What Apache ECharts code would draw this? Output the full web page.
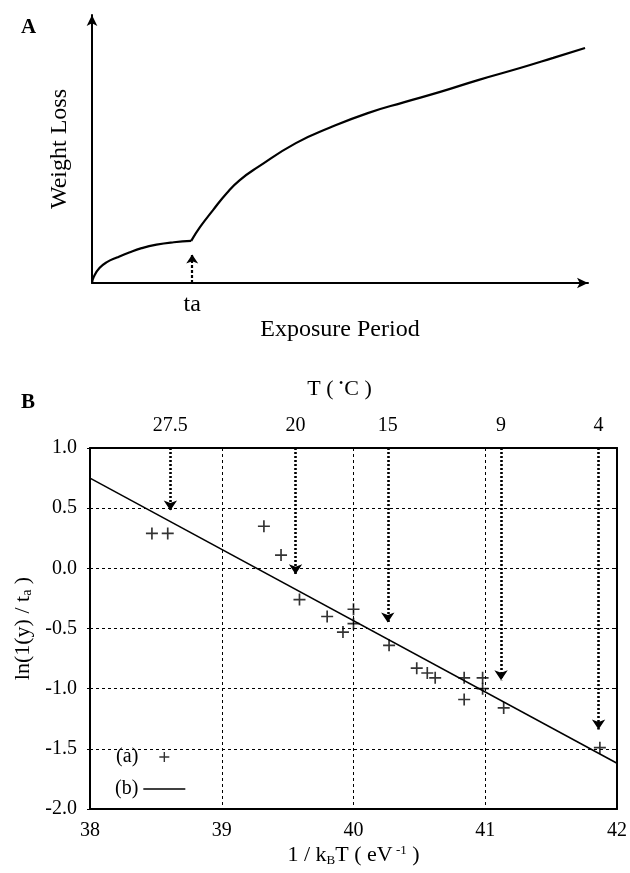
<!DOCTYPE html>
<html>
<head>
<meta charset="utf-8">
<script src="https://cdn.jsdelivr.net/npm/echarts@6/dist/echarts.min.js"></script>
<style>html,body{margin:0;padding:0;background:#fff;}#c{width:630px;height:873px;}</style>
</head>
<body>
<div id="c"></div>
<script>
// ---------- Panel A (schematic) ----------
const phase1X = [0, 0.4, 1.5, 3.0, 5.0, 7.5, 10.0, 13.0, 16.5, 20.0];
const phase1Y = [0, 2.5, 5.6, 7.8, 9.5, 11.4, 13.0, 14.3, 15.2, 15.7];
const phase2X = [20.0, 21.8, 24.4, 27.2, 29.8, 33.5, 41.1, 48.0, 55.6, 63.0, 70.2, 78.0, 86.3, 93.0, 99.4];
const phase2Y = [15.7, 20.9, 27.2, 33.6, 38.4, 43.3, 52.2, 58.0, 63.4, 67.5, 71.3, 75.8, 80.2, 84.0, 87.7];
const taX = 20.2;
const taArrowTip = 10.6;

// ---------- Panel B ----------
const kbtX = [38.47, 38.59, 39.32, 39.45, 39.59, 39.80, 39.92, 40.00, 40.00, 40.27, 40.48, 40.56, 40.62, 40.84, 40.84, 40.98, 40.98, 41.14, 41.87];
const lnY  = [0.29, 0.29, 0.35, 0.11, -0.26, -0.40, -0.53, -0.34, -0.46, -0.64, -0.83, -0.87, -0.91, -0.91, -1.09, -0.91, -1.00, -1.16, -1.49];
const fitX = [38, 42];
const fitY = [0.75, -1.62];
const tempLabels = ['27.5', '20', '15', '9', '4'];
const tempX = [38.61, 39.56, 40.26, 41.12, 41.86];
const arrowTipY = [0.48, -0.05, -0.45, -0.93, -1.34];

const FONT = "'Liberation Serif', 'Times New Roman', serif";
const plusIcon = 'path://M0,4.3H10V5.7H0ZM4.3,0H5.7V10H4.3Z';
const lineIcon = 'path://M0,0H40V1.4H0Z';

const chart = echarts.init(document.getElementById('c'), null, {renderer: 'canvas'});

const option = {
  backgroundColor: '#fff',
  animation: false,
  textStyle: {fontFamily: FONT, color: '#000'},
  title: [
    {text: 'A', left: 21, top: 17, padding: 0, textStyle: {fontFamily: FONT, fontWeight: 'bold', fontSize: 21, color: '#000'}},
    {text: 'B', left: 21, top: 392, padding: 0, textStyle: {fontFamily: FONT, fontWeight: 'bold', fontSize: 21, color: '#000'}}
  ],
  legend: {
    orient: 'vertical',
    left: 110,
    top: 742,
    align: 'right',
    itemWidth: 42,
    itemHeight: 10,
    itemGap: 12,
    textStyle: {fontFamily: FONT, fontSize: 20, color: '#000'},
    data: [
      {name: '(a)', icon: plusIcon},
      {name: '(b)', icon: lineIcon}
    ],
    selectedMode: false
  },
  grid: [
    {left: 92, top: 15, width: 496, height: 268, containLabel: false},
    {left: 90, top: 448, width: 532, height: 361, containLabel: false}
  ],
  xAxis: [
    { // panel A x
      type: 'value', gridIndex: 0, min: 0, max: 100,
      axisLine: {show: true, onZero: false, symbol: ['none', 'arrow'], symbolSize: [8, 11], lineStyle: {color: '#000', width: 2}},
      axisTick: {show: false},
      splitLine: {show: false},
      axisLabel: {show: true, customValues: [taX], formatter: function(){ return 'ta'; }, margin: 10, fontFamily: FONT, fontSize: 24, color: '#000'},
      name: 'Exposure Period', nameLocation: 'middle', nameGap: 22,
      nameTextStyle: {fontFamily: FONT, fontSize: 24, color: '#000'}
    },
    { // panel B bottom
      type: 'value', gridIndex: 1, min: 38, max: 42, interval: 1,
      axisLine: {show: true, onZero: false, lineStyle: {color: '#000', width: 2}},
      axisTick: {show: false},
      splitLine: {show: true, lineStyle: {color: '#000', type: [3, 3], width: 1}},
      axisLabel: {margin: 12, fontFamily: FONT, fontSize: 20, color: '#000', formatter: function(v){ return String(v); }},
      name: '{t|1 / k}{sub|B}{t|T ( eV}{sup| -1}{t| )}', nameLocation: 'middle', nameGap: 35,
      nameTextStyle: {
        fontFamily: FONT, fontSize: 22, color: '#000',
        rich: {
          t: {fontFamily: FONT, fontSize: 22, color: '#000'},
          sub: {fontFamily: FONT, fontSize: 13, color: '#000', padding: [10, 0, 0, 0]},
          sup: {fontFamily: FONT, fontSize: 13, color: '#000', padding: [0, 0, 10, 0]}
        }
      }
    },
    { // panel B top (temperature)
      type: 'value', gridIndex: 1, min: 38, max: 42, position: 'top',
      axisLine: {show: true, onZero: false, lineStyle: {color: '#000', width: 2}},
      axisTick: {show: false},
      splitLine: {show: false},
      axisLabel: {
        customValues: tempX, margin: 12, fontFamily: FONT, fontSize: 20, color: '#000',
        formatter: function(v){ const i = tempX.indexOf(v); return i >= 0 ? tempLabels[i] : ''; }
      },
      name: '{t|T ( }{sup|•}{t|C )}', nameLocation: 'middle', nameGap: 48,
      nameTextStyle: {
        fontFamily: FONT, fontSize: 22, color: '#000', padding: [0, 28, 0, 0],
        rich: {
          t: {fontFamily: FONT, fontSize: 22, color: '#000'},
          sup: {fontFamily: FONT, fontSize: 12, color: '#000', padding: [0, 1, 10, 0]}
        }
      }
    }
  ],
  yAxis: [
    { // panel A y
      type: 'value', gridIndex: 0, min: 0, max: 100,
      axisLine: {show: true, onZero: false, symbol: ['none', 'arrow'], symbolSize: [8, 11], lineStyle: {color: '#000', width: 2}},
      axisTick: {show: false},
      splitLine: {show: false},
      axisLabel: {show: false},
      name: 'Weight Loss', nameLocation: 'middle', nameGap: 20,
      nameTextStyle: {fontFamily: FONT, fontSize: 24, color: '#000'}
    },
    { // panel B left
      type: 'value', gridIndex: 1, min: -2, max: 1, interval: 0.5,
      axisLine: {show: true, onZero: false, lineStyle: {color: '#000', width: 2}},
      axisTick: {show: true, length: 3, lineStyle: {color: '#000'}},
      splitLine: {show: true, lineStyle: {color: '#000', type: [3, 3], width: 1}},
      axisLabel: {margin: 13, fontFamily: FONT, fontSize: 20, color: '#000', formatter: function(v){ return v.toFixed(1); }},
      name: '{t|ln(1(y) / t}{sub|a}{t| )}', nameLocation: 'middle', nameGap: 52,
      nameTextStyle: {
        fontFamily: FONT, fontSize: 22, color: '#000',
        rich: {
          t: {fontFamily: FONT, fontSize: 22, color: '#000'},
          sub: {fontFamily: FONT, fontSize: 14, color: '#000', padding: [8, 0, 0, 0]}
        }
      }
    },
    { // panel B right
      type: 'value', gridIndex: 1, min: -2, max: 1, interval: 0.5, position: 'right',
      axisLine: {show: true, onZero: false, lineStyle: {color: '#000', width: 2}},
      axisTick: {show: true, inside: true, length: 4, lineStyle: {color: '#000'}},
      splitLine: {show: false},
      axisLabel: {show: false}
    }
  ],
  series: [
    {
      name: 'phase1', type: 'line', xAxisIndex: 0, yAxisIndex: 0, smooth: true, showSymbol: false,
      lineStyle: {color: '#000', width: 2.2},
      data: phase1X.map((x, i) => [x, phase1Y[i]]),
      markLine: {
        silent: true, symbol: ['none', 'arrow'], symbolSize: 9,
        label: {show: false},
        lineStyle: {color: '#000', type: [3, 2], width: 2.2},
        data: [[{coord: [taX, 0]}, {coord: [taX, taArrowTip]}]]
      }
    },
    {
      name: 'phase2', type: 'line', xAxisIndex: 0, yAxisIndex: 0, smooth: true, showSymbol: false,
      lineStyle: {color: '#000', width: 2.2},
      data: phase2X.map((x, i) => [x, phase2Y[i]])
    },
    {
      name: '(a)', type: 'scatter', xAxisIndex: 1, yAxisIndex: 1,
      symbol: plusIcon, symbolSize: 12,
      itemStyle: {color: '#000'},
      data: kbtX.map((x, i) => [x, lnY[i]]),
      markLine: {
        silent: true, symbol: ['none', 'arrow'], symbolSize: 10,
        label: {show: false},
        lineStyle: {color: '#000', type: [2, 2], width: 2.6},
        data: tempX.map((x, i) => [{coord: [x, 1.0]}, {coord: [x, arrowTipY[i]]}])
      }
    },
    {
      name: '(b)', type: 'line', xAxisIndex: 1, yAxisIndex: 1, showSymbol: false,
      lineStyle: {color: '#000', width: 1.5},
      itemStyle: {color: '#000'},
      data: fitX.map((x, i) => [x, fitY[i]])
    }
  ]
};
chart.setOption(option);
</script>
</body>
</html>
